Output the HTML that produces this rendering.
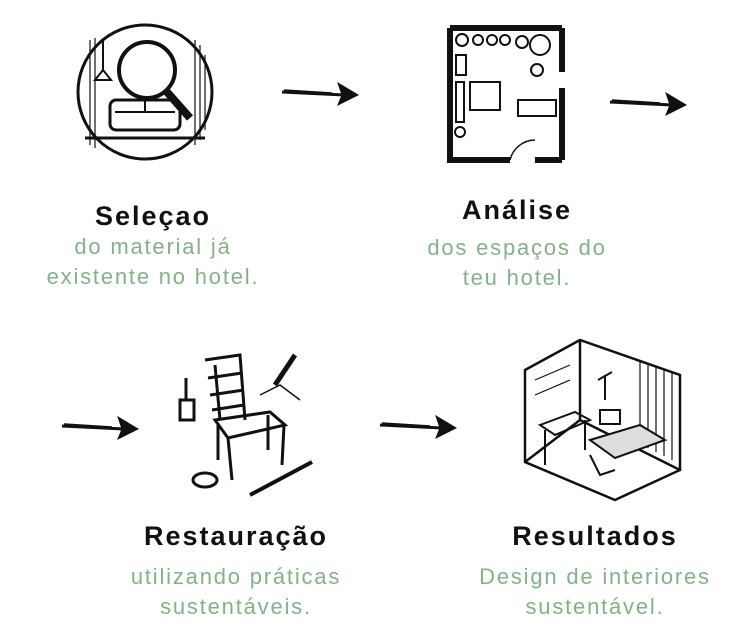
<!DOCTYPE html>
<html><head><meta charset="utf-8"><style>
body{margin:0;width:749px;height:640px;background:#fff;position:relative;overflow:hidden;font-family:"Liberation Sans",sans-serif}
.t{position:absolute;font-weight:bold;font-size:27px;color:#111;text-align:center;width:300px;line-height:30px;letter-spacing:2px}
.s{position:absolute;font-size:22px;color:#80b388;text-align:center;width:320px;line-height:30px;letter-spacing:1.8px}
svg{position:absolute;left:0;top:0}
</style></head><body>
<svg width="749" height="640" viewBox="0 0 749 640" fill="none" stroke="#111">
<defs><g id="ar"><path d="M0 0 L62 3" stroke-width="3"/><path d="M2 -2 L50 1" stroke-width="1.5"/><path d="M56 -9 L76 3 L56 13 L60 3 Z" fill="#111"/></g></defs>
<use href="#ar" transform="translate(282,92)"/>
<use href="#ar" transform="translate(610,102)"/>
<use href="#ar" transform="translate(62,426)"/>
<use href="#ar" transform="translate(380,425)"/>
<circle cx="145" cy="92" r="67" stroke-width="3"/>
<g stroke-width="1.2">
<path d="M90 40 V145 M95 38 V148 M195 40 V145 M200 45 V140 M205 55 V130"/>
</g>
<circle cx="147" cy="70" r="28" stroke-width="4"/>
<path d="M167 92 L190 118" stroke-width="8"/>
<path d="M103 40 V70 M95 80 L103 70 L111 80 Z" stroke-width="2"/>
<rect x="110" y="100" width="70" height="30" rx="6" stroke-width="3"/>
<path d="M115 112 H175 M145 100 V112" stroke-width="2"/>
<path d="M85 138 H205" stroke-width="3"/>
<path d="M450 28 H562 M450 28 V160 H510 M535 160 H562 M562 28 V72 M562 88 V160" stroke-width="6"/>
<path d="M510 160 A26 26 0 0 1 535 140" stroke-width="1.5"/>
<g stroke-width="2"><circle cx="462" cy="40" r="6"/><circle cx="478" cy="40" r="5"/><circle cx="492" cy="40" r="5"/><circle cx="505" cy="40" r="5"/>
<circle cx="540" cy="45" r="10"/><circle cx="522" cy="42" r="6"/><circle cx="537" cy="70" r="6"/>
<rect x="470" y="82" width="30" height="28"/><rect x="518" y="100" width="38" height="16"/>
<rect x="456" y="82" width="8" height="40"/><circle cx="460" cy="132" r="5"/><rect x="456" y="55" width="10" height="20"/></g>
<g stroke-width="3">
<path d="M205 360 L240 355 L245 420 M215 365 L220 420 M208 378 L242 373 M210 395 L244 390 M212 410 L244 405"/>
<path d="M215 420 L270 412 L285 425 L228 438 Z"/>
<path d="M228 438 L232 480 M284 425 L282 465 M218 425 L218 460 M268 415 L268 450"/>
<path d="M275 385 L295 355" stroke-width="5"/><path d="M260 395 L280 385 L300 400" stroke-width="1.5"/>
<rect x="180" y="400" width="14" height="20"/><path d="M186 378 V400"/>
<ellipse cx="205" cy="480" rx="12" ry="7"/><path d="M250 495 L312 462" stroke-width="4"/>
</g>
<g stroke-width="2.5">
<path d="M525 370 L580 340 L680 375 L680 470 L615 500 L525 462 Z"/>
<path d="M580 340 L580 420 L525 462 M580 420 L680 470"/>
</g>
<g stroke-width="1.2"><path d="M640 360 V445 M648 363 V448 M656 366 V452 M664 369 V456 M672 372 V460 M535 380 L570 365 M535 395 L570 380"/></g>
<g stroke-width="2"><path d="M590 440 L640 425 L665 440 L615 458 Z" fill="#ddd"/><path d="M540 425 L575 412 L590 420 L555 435 Z M545 430 V465 M585 420 V450"/>
<rect x="600" y="410" width="20" height="14"/><path d="M605 375 V400 M598 380 L612 372"/><path d="M590 455 L600 475 L615 470"/></g>
</svg>
<div class="t" style="left:3px;top:201px">Seleçao</div>
<div class="s" style="left:-7px;top:232px">do material já<br>existente no hotel.</div>
<div class="t" style="left:367px;top:195px">Análise</div>
<div class="s" style="left:357px;top:233px">dos espaços do<br>teu hotel.</div>
<div class="t" style="left:86px;top:521px">Restauração</div>
<div class="s" style="left:76px;top:562px">utilizando práticas<br>sustentáveis.</div>
<div class="t" style="left:445px;top:521px">Resultados</div>
<div class="s" style="left:435px;top:562px">Design de interiores<br>sustentável.</div>
</body></html>
